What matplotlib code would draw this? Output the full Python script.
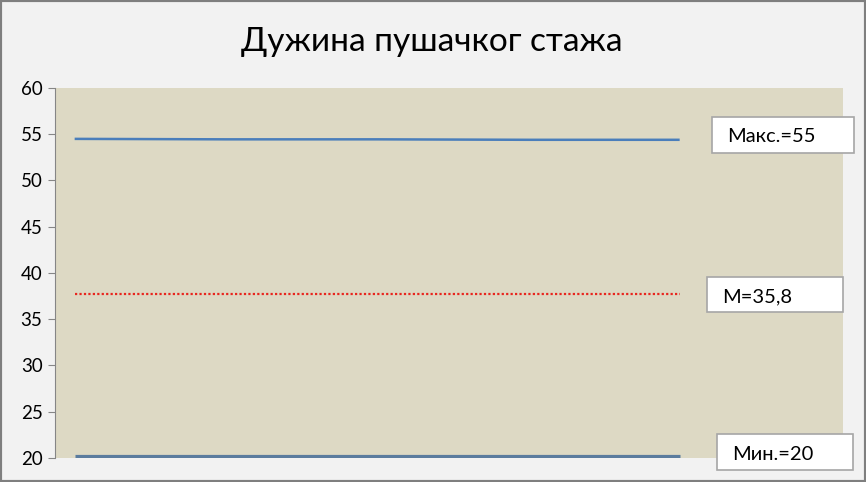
import matplotlib.pyplot as plt
from matplotlib.patches import Rectangle

# data
points = [1, 2, 3, 4, 5]
max_line = [54.5, 54.45, 54.45, 54.4, 54.4]
mean_line = [37.7, 37.7, 37.7, 37.7, 37.7]
min_line = [20.2, 20.2, 20.2, 20.2, 20.2]
labels = ["Макс.=55", "M=35,8", "Мин.=20"]
title = "Дужина пушачког стажа"

W, H = 866, 482
plt.rcParams['font.family'] = ['Lato', 'DejaVu Sans']

fig = plt.figure(figsize=(W / 100, H / 100), dpi=100)
fig.patch.set_facecolor('#F2F2F2')

# plot area in pixels: left 55, right 843, top 88, bottom 458
ax = fig.add_axes([55 / W, 1 - 458 / H, (843 - 55) / W, (458 - 88) / H])
ax.set_facecolor('#DDD9C4')

ax.plot(points, max_line, color='#4A7EBB', lw=1.8, solid_capstyle='butt')
ax.plot(points, mean_line, color='#E8261E', lw=1.6, linestyle=(0, (1, 1)))
ax.plot(points, min_line, color='#5B7C9E', lw=2.3, solid_capstyle='butt')

ax.set_xlim(0.87, 6.08)
ax.set_ylim(20, 60)
ax.set_yticks(range(20, 61, 5))
ax.set_xticks([])
ax.tick_params(axis='y', length=5, color='#868686', labelsize=13.5, pad=4,
               labelcolor='#000000')
for s in ['top', 'right', 'bottom']:
    ax.spines[s].set_visible(False)
ax.spines['left'].set_color('#868686')

fig.text(432 / W, 1 - 42 / H, title, ha='center', va='center', fontsize=24)

# label boxes (pixel boxes: x0, y0, x1, y1)
boxes = [(712, 117, 854, 153), (707, 277, 843, 312), (717, 434, 853, 470)]
for (x0, y0, x1, y1), lab in zip(boxes, labels):
    fig.patches.append(Rectangle((x0 / W, 1 - y1 / H), (x1 - x0) / W, (y1 - y0) / H,
                                 transform=fig.transFigure, facecolor='white',
                                 edgecolor='#A6A6A6', lw=1.2))
    fig.text((x0 + 15) / W, 1 - ((y0 + y1) / 2 + 2) / H, lab, ha='left',
             va='center', fontsize=14.5)

# outer frame
fig.patches.append(Rectangle((0, 0), 1, 1, transform=fig.transFigure,
                             facecolor='none', edgecolor='#7F7F7F', lw=3))

fig.savefig('out.png', dpi=100, facecolor=fig.get_facecolor())
